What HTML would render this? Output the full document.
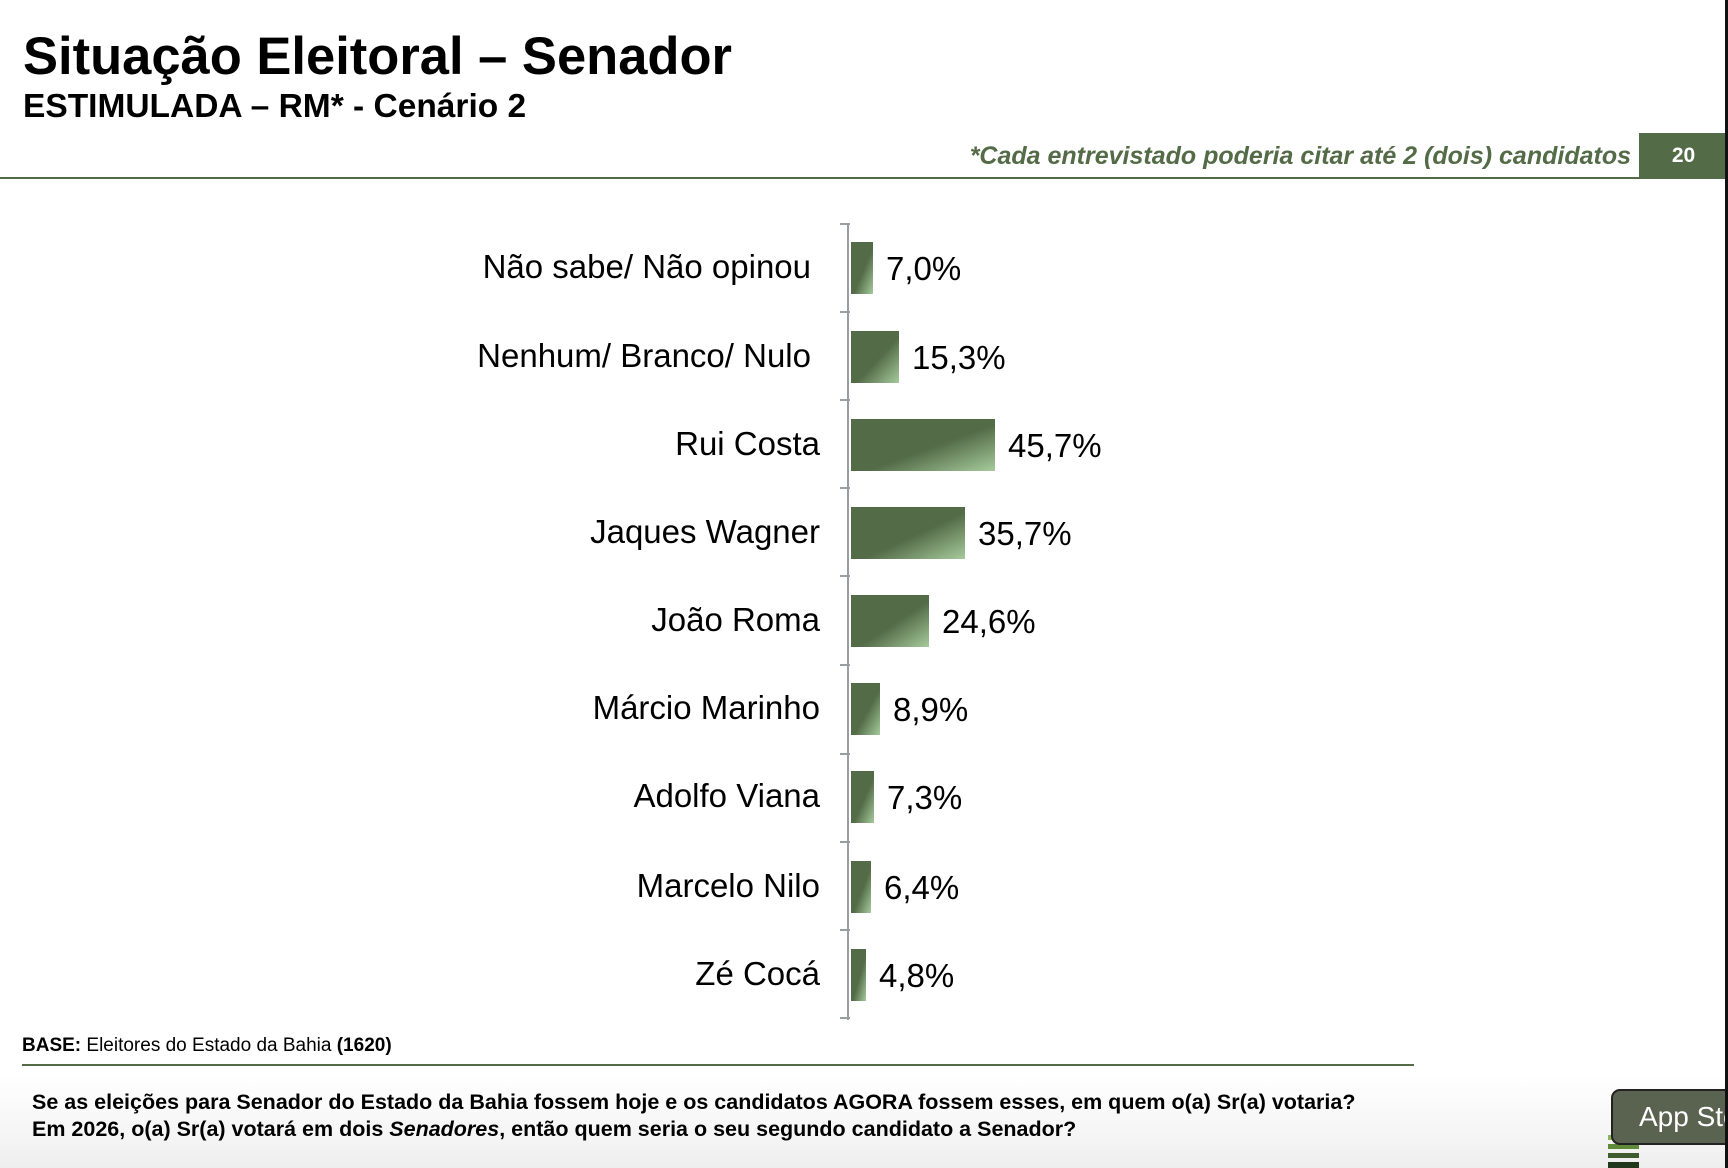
<!DOCTYPE html>
<html><head><meta charset="utf-8"><style>
html,body{margin:0;padding:0;width:1728px;height:1168px;overflow:hidden;background:#fff}
#s{position:absolute;left:0;top:0;width:1728px;height:1168px;font-family:"Liberation Sans",Arial,sans-serif;color:#000;background:linear-gradient(to bottom,#fff 0,#fff 1075px,#f4f4f4 1140px,#eee 1168px)}
.a{position:absolute;white-space:nowrap}
.lab{position:absolute;right:908px;font-size:33px;line-height:36px}
.val{position:absolute;font-size:33px;line-height:36px}
.bar{position:absolute;left:851px;height:52px;background:linear-gradient(to bottom right,#536b47 0%,#536b47 55%,#a6cb9c 100%)}
.tk{position:absolute;left:840px;width:10px;height:2px;background:#9a9ea3}
</style></head><body><div id="s">
<div class="a" style="left:23px;top:27px;font-size:52.5px;font-weight:bold;line-height:60px">Situação Eleitoral – Senador</div>
<div class="a" style="left:23px;top:88px;font-size:33.5px;font-weight:bold;line-height:38px">ESTIMULADA – RM* - Cenário 2</div>
<div class="a" style="right:97px;top:142px;font-size:25px;font-weight:bold;font-style:italic;color:#536b47;line-height:29px">*Cada entrevistado poderia citar até 2 (dois) candidatos</div>
<div class="a" style="left:1639px;top:133px;width:89px;height:46px;background:#536b47;color:#fff;font-weight:bold;font-size:21px;line-height:46px;text-align:center">20</div>
<div class="a" style="left:0;top:177px;width:1639px;height:2px;background:#536b47"></div>

<div class="a" style="left:847px;top:224px;width:2px;height:796px;background:#9a9ea3"></div>
<div class="tk" style="top:223px"></div><div class="tk" style="top:311px"></div><div class="tk" style="top:399px"></div><div class="tk" style="top:487px"></div><div class="tk" style="top:575px"></div><div class="tk" style="top:664px"></div><div class="tk" style="top:753px"></div><div class="tk" style="top:841px"></div><div class="tk" style="top:929px"></div><div class="tk" style="top:1017px"></div>

<div class="lab" style="top:249px;right:917px">Não sabe/ Não opinou</div>
<div class="bar" style="top:242px;width:22px"></div><div class="val" style="left:886px;top:251px">7,0%</div>
<div class="lab" style="top:338px;right:917px">Nenhum/ Branco/ Nulo</div>
<div class="bar" style="top:331px;width:48px"></div><div class="val" style="left:912px;top:340px">15,3%</div>
<div class="lab" style="top:426px">Rui Costa</div>
<div class="bar" style="top:419px;width:144px"></div><div class="val" style="left:1008px;top:428px">45,7%</div>
<div class="lab" style="top:514px">Jaques Wagner</div>
<div class="bar" style="top:507px;width:114px"></div><div class="val" style="left:978px;top:516px">35,7%</div>
<div class="lab" style="top:602px">João Roma</div>
<div class="bar" style="top:595px;width:78px"></div><div class="val" style="left:942px;top:604px">24,6%</div>
<div class="lab" style="top:690px">Márcio Marinho</div>
<div class="bar" style="top:683px;width:29px"></div><div class="val" style="left:893px;top:692px">8,9%</div>
<div class="lab" style="top:778px">Adolfo Viana</div>
<div class="bar" style="top:771px;width:23px"></div><div class="val" style="left:887px;top:780px">7,3%</div>
<div class="lab" style="top:868px">Marcelo Nilo</div>
<div class="bar" style="top:861px;width:20px"></div><div class="val" style="left:884px;top:870px">6,4%</div>
<div class="lab" style="top:956px">Zé Cocá</div>
<div class="bar" style="top:949px;width:15px"></div><div class="val" style="left:879px;top:958px">4,8%</div>

<div class="a" style="left:22px;top:1035px;font-size:19px;line-height:22px"><b>BASE:</b> Eleitores do Estado da Bahia <b>(1620)</b></div>
<div class="a" style="left:22px;top:1064px;width:1392px;height:2px;background:#536b47"></div>
<div class="a" style="left:32px;top:1089px;font-size:21.5px;font-weight:bold;line-height:26.5px">Se as eleições para Senador do Estado da Bahia fossem hoje e os candidatos AGORA fossem esses, em quem o(a) Sr(a) votaria?<br>Em 2026, o(a) Sr(a) votará em dois <i>Senadores</i>, então quem seria o seu segundo candidato a Senador?</div>

<div class="a" style="left:1608px;top:1135px;width:31px;height:5px;background:#8fb35a"></div>
<div class="a" style="left:1608px;top:1144px;width:31px;height:5px;background:#5f8a3a"></div>
<div class="a" style="left:1608px;top:1153px;width:31px;height:5px;background:#3e5c2e"></div>
<div class="a" style="left:1608px;top:1162px;width:31px;height:6px;background:#22381c"></div>
<div class="a" style="left:1611px;top:1089px;width:130px;height:52px;background:#5a6350;border:2px solid #222;border-radius:9px;color:#fff;font-size:28px;line-height:52px;padding-left:26px">App Store</div>
<div class="a" style="left:1725px;top:0;width:3px;height:1168px;background:#111"></div>
</div></body></html>
